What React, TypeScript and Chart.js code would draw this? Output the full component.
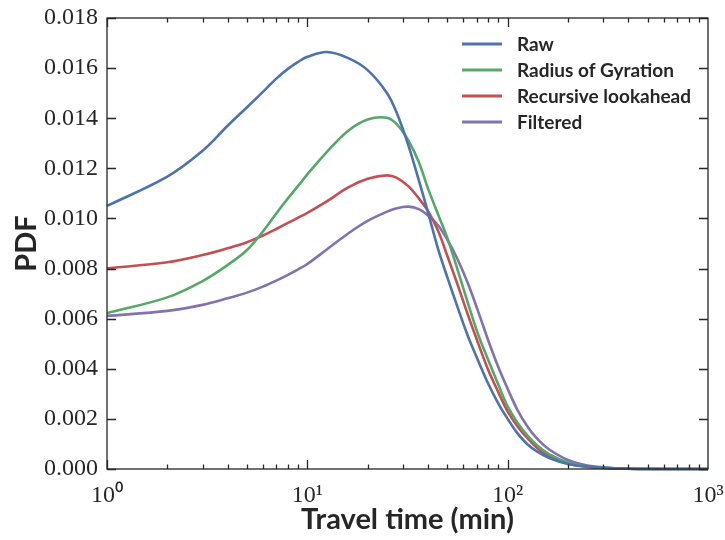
import React, { useEffect, useRef } from "react";
import { Chart, registerables } from "chart.js";

Chart.register(...registerables);

// Travel time in minutes (x, log scale)
const minutes = [1, 2, 3, 4, 5, 6, 7, 8, 9, 10, 12.5, 16, 20, 25, 28, 32, 36, 40, 45, 50, 56, 63, 71, 80, 90, 100, 112, 125, 140, 160, 200, 250, 320, 400, 500, 630, 800, 1000];

const raw = [0.0105, 0.01167, 0.0127, 0.0137, 0.01444, 0.01505, 0.01558, 0.01597, 0.01625, 0.01645, 0.01664, 0.0164, 0.01592, 0.015, 0.0142, 0.0129, 0.01153, 0.01025, 0.00877, 0.00765, 0.0065, 0.00535, 0.00435, 0.0034, 0.0026, 0.002, 0.00142, 0.001, 0.0007, 0.00045, 0.0002, 0.0001, 0.00004, 0.00001, 0, 0, 0, 0];

const gyration = [0.00622, 0.00685, 0.0075, 0.00814, 0.00874, 0.00948, 0.0102, 0.0108, 0.0113, 0.01176, 0.01265, 0.0135, 0.01395, 0.01402, 0.01375, 0.0131, 0.01225, 0.0112, 0.01015, 0.00922, 0.008, 0.00668, 0.0054, 0.00435, 0.00335, 0.0025, 0.00185, 0.00135, 0.00095, 0.0006, 0.00026, 0.0001, 0.00004, 0.00001, 0, 0, 0, 0];

const lookahead = [0.00801, 0.00825, 0.00854, 0.00881, 0.00905, 0.00932, 0.00958, 0.00982, 0.01003, 0.01022, 0.01068, 0.01124, 0.01158, 0.01172, 0.01162, 0.01128, 0.0108, 0.0103, 0.0095, 0.0085, 0.0074, 0.0062, 0.00505, 0.00395, 0.00305, 0.0023, 0.0017, 0.00125, 0.00085, 0.00052, 0.00022, 0.00008, 0.00003, 0.00001, 0, 0, 0, 0];

const filtered = [0.00611, 0.00631, 0.00655, 0.00681, 0.00704, 0.00728, 0.00752, 0.00775, 0.00797, 0.00818, 0.00876, 0.0094, 0.0099, 0.01027, 0.01041, 0.01047, 0.01037, 0.01012, 0.00972, 0.00915, 0.0084, 0.00745, 0.00632, 0.00513, 0.00405, 0.0032, 0.00235, 0.00172, 0.00122, 0.0008, 0.00036, 0.00014, 0.00005, 0.00002, 0.00001, 0, 0, 0];

const seriesLabels = ["Raw", "Radius of Gyration", "Recursive lookahead", "Filtered"];
const seriesColors = ["#4c72b0", "#55a868", "#c44e52", "#8172b2"];
const seriesValues = [raw, gyration, lookahead, filtered];

const yTicks = [0, 0.002, 0.004, 0.006, 0.008, 0.01, 0.012, 0.014, 0.016, 0.018];
const xDecades = [1, 10, 100, 1000];
const xTickLabels = ["10\u2070", "10\u00b9", "10\u00b2", "10\u00b3"];

const INK = "#262626";

const frameAndLegend = {
  id: "frameAndLegend",
  afterDatasetsDraw(chart: any) {
    const { ctx, chartArea: a, scales } = chart;
    const xs = scales.x;
    const ys = scales.y;
    ctx.save();
    ctx.strokeStyle = INK;
    ctx.lineWidth = 1.3;
    ctx.strokeRect(a.left, a.top, a.right - a.left, a.bottom - a.top);
    ctx.beginPath();
    for (const d of [1, 10, 100]) {
      for (let k = 1; k <= 9; k++) {
        const px = Math.round(xs.getPixelForValue(d * k)) + 0.5;
        const len = k === 1 ? 9 : 4.5;
        ctx.moveTo(px, a.bottom);
        ctx.lineTo(px, a.bottom - len);
        ctx.moveTo(px, a.top);
        ctx.lineTo(px, a.top + len);
      }
    }
    for (const v of yTicks) {
      const py = Math.round(ys.getPixelForValue(v)) + 0.5;
      ctx.moveTo(a.left, py);
      ctx.lineTo(a.left + 9, py);
      ctx.moveTo(a.right, py);
      ctx.lineTo(a.right - 9, py);
    }
    ctx.stroke();

    // legend (upper right, inside the axes)
    const lx = a.right - 246;
    const tx = a.right - 191;
    const ly = a.top + 26;
    ctx.font = "bold 19px Lato";
    ctx.textBaseline = "middle";
    ctx.textAlign = "left";
    chart.data.datasets.forEach((ds: any, i: number) => {
      const y = ly + i * 26;
      ctx.strokeStyle = ds.borderColor;
      ctx.lineWidth = 3;
      ctx.beginPath();
      ctx.moveTo(lx, y);
      ctx.lineTo(lx + 40, y);
      ctx.stroke();
      ctx.fillStyle = INK;
      ctx.fillText(ds.label, tx, y + 1);
    });
    ctx.restore();
  },
};

export default function App() {
  const ref = useRef<HTMLCanvasElement>(null);
  useEffect(() => {
    if (!ref.current) return;
    const chart = new Chart(ref.current, {
      type: "line",
      data: {
        datasets: seriesLabels.map((label, i) => ({
          label,
          data: minutes.map((m, j) => ({ x: m, y: seriesValues[i][j] })),
          borderColor: seriesColors[i],
          backgroundColor: seriesColors[i],
          borderWidth: 2.6,
          pointRadius: 0,
          tension: 0.35,
          fill: false,
          clip: 6,
        })),
      },
      options: {
        animation: false,
        responsive: false,
        maintainAspectRatio: false,
        layout: { padding: { top: 18, right: 17, left: 0, bottom: 0 } },
        plugins: { legend: { display: false }, tooltip: { enabled: false } },
        scales: {
          x: {
            type: "logarithmic",
            min: 1,
            max: 1000,
            grid: { display: false, drawTicks: false },
            border: { display: false },
            afterBuildTicks: (s: any) => {
              s.ticks = xDecades.map((v) => ({ value: v }));
            },
            afterFit: (s: any) => {
              s.height = 71;
              s.paddingLeft = 0;
              s.paddingRight = 0;
            },
            ticks: {
              autoSkip: false,
              maxRotation: 0,
              padding: 12,
              color: INK,
              font: { family: "Liberation Serif", size: 24 },
              callback: (v: any) => {
                const idx = xDecades.indexOf(Number(v));
                return idx >= 0 ? xTickLabels[idx] : "";
              },
            },
            title: {
              display: true,
              text: "Travel time (min)",
              color: INK,
              font: { family: "Lato", weight: "bold", size: 29 },
              padding: { top: 0, bottom: 3 },
            },
          },
          y: {
            min: 0,
            max: 0.018,
            grid: { display: false, drawTicks: false },
            border: { display: false },
            afterBuildTicks: (s: any) => {
              s.ticks = yTicks.map((v) => ({ value: v }));
            },
            afterFit: (s: any) => {
              s.width = 107;
              s.paddingTop = 0;
              s.paddingBottom = 0;
            },
            ticks: {
              padding: 9,
              color: INK,
              font: { family: "Liberation Serif", size: 24 },
              callback: (v: any) => Number(v).toFixed(3),
            },
            title: {
              display: true,
              text: "PDF",
              color: INK,
              font: { family: "Lato", weight: "bold", size: 29 },
              padding: { top: 9, bottom: 0 },
            },
          },
        },
      },
      plugins: [frameAndLegend],
    });
    return () => chart.destroy();
  }, []);
  return (
    <div style={{ position: "absolute", left: 0, top: 0, width: 725, height: 540, background: "#fff" }}>
      <canvas ref={ref} width={725} height={540} style={{ display: "block" }} />
    </div>
  );
}
